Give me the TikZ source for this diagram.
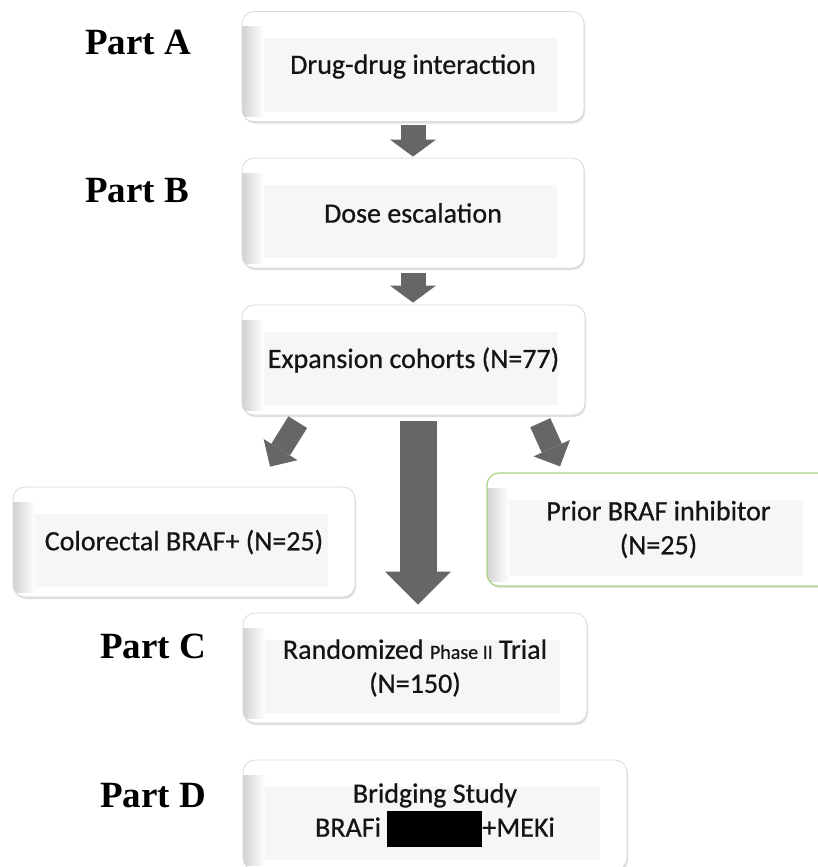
\documentclass[tikz,border=0pt]{standalone}
\usepackage{fontspec}
\newfontfamily\boxfont{Carlito}[FakeBold=0.6]
\newfontfamily\partfont{Liberation Serif}
\usepackage{tikz}
\usetikzlibrary{arrows.meta,shadows}
\usepackage{xcolor}
\definecolor{boxedge}{HTML}{D9D9D9}
\definecolor{boxinner}{HTML}{F6F6F6}
\definecolor{boxtext}{HTML}{141414}
\definecolor{arrowgray}{HTML}{666666}
\definecolor{priorgreen}{HTML}{A8D383}
\tikzset{
  stagebox/.style={
    rounded corners=12pt,
    draw=boxedge,
    fill=white,
    line width=0.8pt,
    minimum width=342pt,
    minimum height=110pt,
    inner sep=0pt,
    align=center,
    text=boxtext,
    font=\boxfont\fontsize{28}{34}\selectfont,
    drop shadow={shadow xshift=1pt, shadow yshift=-2pt, fill=gray!50, opacity=0.5},
    path picture={
      \fill[boxinner, sharp corners] ([xshift=22pt,yshift=10pt]path picture bounding box.south west)
        rectangle ([xshift=-27pt,yshift=-27pt]path picture bounding box.north east);
      \shade[left color=gray!35, right color=white, sharp corners] ([yshift=5pt]path picture bounding box.south west)
        rectangle ([xshift=22pt,yshift=-15pt]path picture bounding box.north west);
    }
  },
  partlabel/.style={
    anchor=base west,
    inner sep=0pt,
    font=\partfont\bfseries\fontsize{37}{40}\selectfont
  },
  stemarrow/.style={
    draw=arrowgray,
    line width=25pt,
    -{Triangle[length=17pt,width=46pt,line width=0pt]}
  },
  mainarrow/.style={
    draw=arrowgray,
    line width=37pt,
    -{Triangle[length=33pt,width=66pt,line width=0pt]}
  },
  sidearrow/.style={
    draw=arrowgray,
    line width=22pt,
    -{Triangle[length=20pt,width=40pt,line width=0pt]}
  }
}

\begin{document}
\begin{tikzpicture}[x=1pt,y=-1pt]
\useasboundingbox (0,0) rectangle (817,867);
\node[partlabel] (partA) at (85,55) {Part A};
\node[partlabel] (partB) at (85,202) {Part B};
\node[partlabel] (partC) at (100,658) {Part C};
\node[partlabel] (partD) at (100,807) {Part D};
\node[stagebox] (ddi) at (413,66.5) {Drug-drug interaction};
\node[stagebox] (dose) at (413,213) {Dose escalation};
\node[stagebox, minimum width=343pt] (expand) at (413.5,360) {Expansion cohorts (N=77)};
\node[stagebox] (colorectal) at (184,542) {Colorectal BRAF+ (N=25)};
\node[stagebox, draw=priorgreen, line width=1.2pt, minimum width=343pt, minimum height=113pt] (prior) at (658.5,529.5) {Prior BRAF inhibitor\\(N=25)};
\node[stagebox, minimum width=344pt] (phase2) at (415,668) {Randomized {\fontsize{20}{22}\selectfont Phase II} Trial\\(N=150)};
\node[stagebox, minimum width=384pt] (bridging) at (435,815) {Bridging Study\\BRAFi {\color{black}\rule[-10pt]{95pt}{36pt}}+MEKi};
\draw[stemarrow, shorten <=3pt, shorten >=1pt] (ddi.south) -- (ddi.south |- dose.north);
\draw[stemarrow, shorten <=5pt, shorten >=2pt] (dose.south) -- (dose.south |- expand.north);
\draw[mainarrow, shorten <=6pt, shorten >=8pt] ([xshift=4.5pt]expand.south) -- ([xshift=4.5pt]expand.south |- phase2.north);
\draw[sidearrow, shorten <=8pt] ([xshift=-111.5pt]expand.south) -- ([xshift=86pt,yshift=20pt]colorectal.north);
\draw[sidearrow, shorten <=8pt] ([xshift=123.5pt]expand.south) -- ([xshift=-98.5pt,yshift=6pt]prior.north);
\end{tikzpicture}
\end{document}
